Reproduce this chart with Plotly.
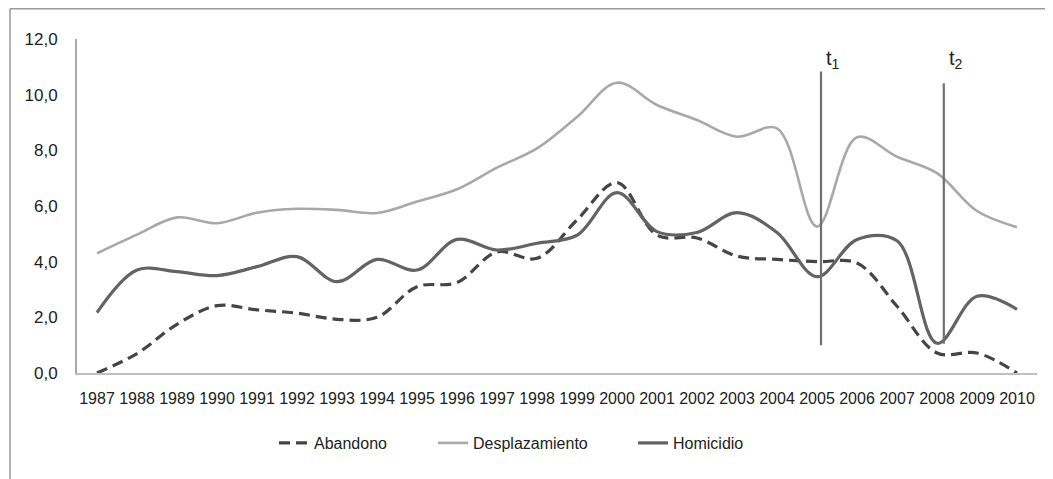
import plotly.graph_objects as go

years = list(range(1987, 2011))
abandono = [0.0, 0.7, 1.75, 2.42, 2.27, 2.15, 1.93, 2.0, 3.1, 3.25, 4.35, 4.12, 5.5, 6.84,
            4.95, 4.85, 4.2, 4.08, 4.0, 3.95, 2.4, 0.72, 0.72, 0.0]
desplazamiento = [4.3, 4.97, 5.59, 5.38, 5.76, 5.9, 5.86, 5.75, 6.16, 6.6, 7.38, 8.07, 9.2, 10.43,
                  9.63, 9.09, 8.49, 8.79, 5.26, 8.47, 7.77, 7.18, 5.82, 5.24]
homicidio = [2.17, 3.7, 3.64, 3.5, 3.82, 4.18, 3.28, 4.08, 3.7, 4.8, 4.42, 4.66, 4.95, 6.48,
             5.08, 5.05, 5.76, 5.05, 3.46, 4.8, 4.75, 1.07, 2.76, 2.29]
events = ["t<sub>1</sub>", "t<sub>2</sub>"]
event_x = [2005.1, 2008.17]
event_top = [10.83, 10.41]
event_bottom = [1.0, 1.05]
yticks = [0, 2, 4, 6, 8, 10, 12]
ytick_text = ["0,0", "2,0", "4,0", "6,0", "8,0", "10,0", "12,0"]

FONT = "Liberation Sans, Arial, sans-serif"
W, H = 1045, 471  # page body adds an 8px offset

fig = go.Figure()
fig.add_trace(go.Scatter(x=years, y=abandono, name="Abandono", mode="lines", legend="legend",
                         line=dict(color="#454545", width=3.2, dash="11px,6px", shape="spline", smoothing=1.0)))
fig.add_trace(go.Scatter(x=years, y=desplazamiento, name="Desplazamiento", mode="lines", legend="legend2",
                         line=dict(color="#a8a8a8", width=2.6, shape="spline", smoothing=1.0)))
fig.add_trace(go.Scatter(x=years, y=homicidio, name="Homicidio", mode="lines", legend="legend3",
                         line=dict(color="#636363", width=3.2, shape="spline", smoothing=1.0)))

for lbl, ex, et, eb in zip(events, event_x, event_top, event_bottom):
    fig.add_trace(go.Scatter(x=[ex, ex], y=[eb, et], mode="lines", showlegend=False,
                             hoverinfo="skip", line=dict(color="#707070", width=2.2)))
    fig.add_annotation(x=ex + 0.3, y=11.25, text=lbl, showarrow=False,
                       font=dict(family=FONT, size=20, color="#222222"))

def leg(xpx):
    return dict(orientation="h", xref="container", yref="container",
                x=xpx / W, xanchor="left", y=0.0764, yanchor="middle",
                font=dict(family=FONT, size=16, color="#222222"), bgcolor="rgba(0,0,0,0)")

fig.update_layout(
    width=W, height=H,
    margin=dict(l=69, r=16, t=31, b=106),
    paper_bgcolor="white", plot_bgcolor="white",
    font=dict(family=FONT, color="#333333"),
    legend=leg(266), legend2=leg(425), legend3=leg(625),
    shapes=[
        dict(type="line", xref="paper", yref="paper", x0=-0.0698, x1=1.1, y0=1.0906, y1=1.0906,
             line=dict(color="#9a9a9a", width=1.5)),
        dict(type="line", xref="paper", yref="paper", x0=-0.0698, x1=-0.0698, y0=1.0906, y1=-0.5,
             line=dict(color="#9a9a9a", width=1.5)),
    ],
)
fig.update_xaxes(range=[1986.5, 2010.5], tickmode="array", tickvals=years,
                 ticktext=[str(y) for y in years], showgrid=False, zeroline=False,
                 showline=True, linecolor="#c0c0c0", linewidth=2, ticks="",
                 tickfont=dict(family=FONT, size=16, color="#222222"), ticklabelstandoff=10)
fig.update_yaxes(range=[0, 12], tickmode="array", tickvals=yticks, ticktext=ytick_text,
                 showgrid=False, zeroline=False, showline=True, linecolor="#a8a8a8", linewidth=2,
                 ticks="", tickfont=dict(family=FONT, size=17, color="#222222"),
                 ticklabelstandoff=14)

fig.write_html("out.html")
